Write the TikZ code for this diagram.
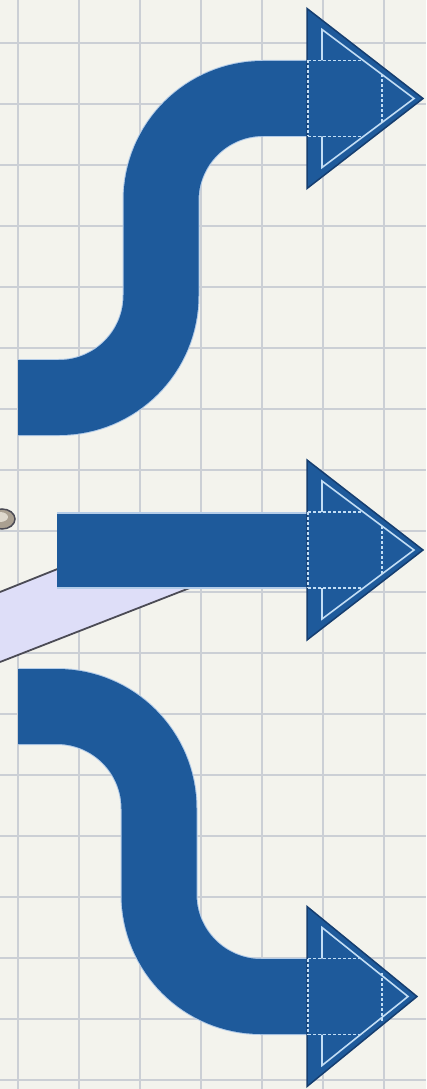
\documentclass[tikz,border=0pt]{standalone}
\usepackage{xcolor}
\usepackage{tikz}
\usetikzlibrary{calc}

\definecolor{paper}{RGB}{243,243,237}
\definecolor{gridgray}{RGB}{203,207,213}
\definecolor{arrowblue}{RGB}{30,90,155}
\definecolor{arrowedge}{RGB}{22,62,112}
\definecolor{halo}{RGB}{180,204,232}
\definecolor{chalk}{RGB}{195,222,245}
\definecolor{beam}{RGB}{222,222,248}
\definecolor{beamedge}{RGB}{75,75,85}
\definecolor{washer}{RGB}{170,160,145}
\definecolor{washertop}{RGB}{222,216,204}

\begin{document}
\begin{tikzpicture}[
        x=1pt, y=-1pt,
        gridline/.style={draw=gridgray, line width=2.4pt},
        shafthalo/.style={draw=halo, line width=77pt, rounded corners=102pt},
        shaft/.style={draw=arrowblue, line width=75pt, rounded corners=102pt},
        head/.style={fill=arrowblue, draw=arrowedge, line width=1.5pt, line join=miter},
        chalkline/.style={draw=chalk, line width=1.6pt},
        chalkdash/.style={draw=chalk, line width=1.3pt, dash pattern=on 3pt off 2pt},
        beamfill/.style={fill=beam},
        beamline/.style={draw=beamedge, line width=1.8pt},
    ]

    % ── Paper and grid ──
    \fill[paper] (0,0) rectangle (426,1089);
    \useasboundingbox (0,0) rectangle (426,1089);
    \clip (0,0) rectangle (426,1089);
    \foreach \x in {18,79,...,384} \draw[gridline] (\x,0) -- (\x,1089);
    \foreach \y in {43,104,...,1080} \draw[gridline] (0,\y) -- (426,\y);

    % ── Anchor points ──
    \coordinate (startA) at (18,397.5);
    \coordinate (riseA) at (161,250);
    \coordinate (tipA) at (307,98.5);
    \coordinate (startB) at (57,550);
    \coordinate (tipB) at (307,550);
    \coordinate (startC) at (18,706.5);
    \coordinate (riseC) at (159,850);
    \coordinate (tipC) at (307,996.5);

    % ── Small washer at the left edge ──
    \filldraw[fill=washer, draw=beamedge, line width=1.5pt] (2,519) ellipse [x radius=13, y radius=10];
    \fill[washertop] (0,517) ellipse [x radius=8, y radius=5];

    % ── Light beam under the middle arrow ──
    \fill[beamfill] (0,592) -- (100,552) -- (282,552) -- (0,662) -- cycle;
    \draw[beamline] (0,592) -- (100,552);
    \draw[beamline] (0,662) -- (282,552);

    % ── Shafts ──
    \draw[shafthalo] (startA) -- (startA -| riseA) -- (riseA |- tipA) -- (tipA);
    \draw[shaft] (startA) -- (startA -| riseA) -- (riseA |- tipA) -- (tipA);
    \draw[shafthalo] (startB) -- (tipB);
    \draw[shaft, line width=73pt] (startB) -- (tipB);
    \draw[shafthalo] (startC) -- (startC -| riseC) -- (riseC |- tipC) -- (tipC);
    \draw[shaft] (startC) -- (startC -| riseC) -- (riseC |- tipC) -- (tipC);

    % ── Heads ──
    \foreach \h/\l in {tipA/116, tipB/116, tipC/110} {
        \begin{scope}[shift={(\h)}]
            \filldraw[head] (0,-90) -- (\l,0) -- (0,90) -- cycle;
            \draw[chalkline] (15,-38) -- (15,-69) -- (\l-9,0) -- (15,69) -- (15,38);
            \draw[chalkdash] (1,-38) -- (1,38);
            \draw[chalkdash] (1,-38) -- (56,-38);
            \draw[chalkdash] (1,38) -- (56,38);
            \draw[chalkdash] (75,-24) -- (75,24);
        \end{scope}
    }

\end{tikzpicture}
\end{document}
